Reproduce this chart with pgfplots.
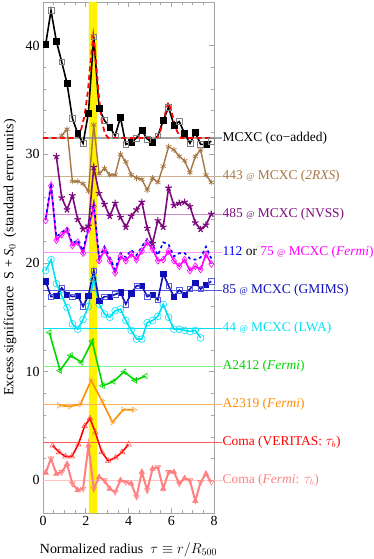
\documentclass[border=0pt]{standalone}
\usepackage{fontspec}
\setmainfont{Liberation Serif}
\usepackage{pgfplots}
\usepackage{pgfplotstable}
\pgfplotsset{compat=1.18}
\definecolor{cbrown}{RGB}{166,118,66}
\definecolor{cbrownl}{RGB}{205,175,145}
\definecolor{cpurple}{RGB}{125,10,125}
\definecolor{cpurplel}{RGB}{205,140,205}
\definecolor{cmag}{RGB}{255,0,255}
\definecolor{cmagl}{RGB}{255,150,255}
\definecolor{cblue}{RGB}{0,0,255}
\definecolor{cgm}{RGB}{15,15,185}
\definecolor{cgml}{RGB}{90,90,225}
\definecolor{ccyan}{RGB}{0,225,245}
\definecolor{cgreen}{RGB}{0,215,0}
\definecolor{cgreenl}{RGB}{130,240,130}
\definecolor{corange}{RGB}{255,140,0}
\definecolor{corangel}{RGB}{255,180,90}
\definecolor{cred}{RGB}{255,0,0}
\definecolor{credl}{RGB}{255,90,90}
\definecolor{cpink}{RGB}{255,128,128}
\definecolor{cpinkl}{RGB}{255,195,195}
\definecolor{cframe}{RGB}{165,165,165}

\pgfplotstableread{
x y
0.125 40.1
0.375 43.2
0.625 40.4
0.875 38.5
1.125 36.5
1.375 33.3
1.625 31.9
1.875 31.0
2.125 33.8
2.375 40.8
2.625 34.2
2.875 33.1
3.125 32.5
3.375 31.7
3.625 33.4
3.875 30.9
4.125 31.1
4.375 31.5
4.625 32.2
4.875 31.4
5.125 31.1
5.375 31.7
5.625 33.1
5.875 34.3
6.125 32.7
6.375 33.0
6.625 31.9
6.875 31.0
7.125 32.0
7.375 30.9
7.625 30.9
7.875 31.2
}\tblack

\pgfplotstableread{
x y
0.0 31.5
1.55 31.5
1.75 32.0
1.95 33.6
2.1 35.8
2.25 39.0
2.35 40.9
2.45 39.2
2.6 35.6
2.75 33.0
2.9 31.9
3.05 31.5
5.35 31.5
5.5 32.2
5.7 33.6
5.87 34.8
6.05 33.6
6.25 32.2
6.45 31.5
8.0 31.5
}\tmodel

\pgfplotstableread{
x y
0.875 31.7
1.125 32.3
1.375 27.5
1.625 27.5
1.875 27.3
2.125 26.6
2.375 32.7
2.625 28.2
2.875 28.7
3.125 28.1
3.375 28.1
3.625 30.0
3.875 29.3
4.125 28.1
4.375 27.8
4.625 27.7
4.875 26.7
5.125 27.8
5.375 27.4
5.625 28.9
5.875 30.7
6.125 30.4
6.375 29.8
6.625 29.4
6.875 28.3
7.125 29.8
7.375 30.4
7.625 28.1
7.875 27.4
}\tbrown

\pgfplotstableread{
x y
0.625 29.8
0.875 26.0
1.125 24.9
1.375 26.2
1.625 24.0
1.875 23.1
2.125 23.4
2.375 28.8
2.625 26.4
2.875 25.4
3.125 24.3
3.375 25.5
3.625 24.2
3.875 23.3
4.125 24.3
4.375 24.9
4.625 25.6
4.875 23.2
5.125 21.8
5.375 23.9
5.625 23.3
5.875 26.9
6.125 25.3
6.375 25.5
6.625 25.6
6.875 25.2
7.125 23.7
7.375 23.1
7.625 23.5
7.875 24.5
}\tpurple

\pgfplotstableread{
x y
0.125 23.9
0.375 27.1
0.625 22.1
0.875 22.6
1.125 23.0
1.375 21.6
1.625 21.9
1.875 20.9
2.125 23.1
2.375 25.2
2.625 20.2
2.875 21.2
3.125 20.2
3.375 19.1
3.625 20.6
3.875 20.2
4.125 20.8
4.375 20.3
4.625 21.1
4.875 21.9
5.125 21.3
5.375 20.2
5.625 20.3
5.875 21.1
6.125 20.2
6.375 19.7
6.625 20.3
6.875 19.3
7.125 19.7
7.375 19.4
7.625 20.8
7.875 19.9
}\tmag

\pgfplotstableread{
x y
0.125 24.1
0.375 27.3
0.625 22.4
0.875 22.8
1.125 23.2
1.375 21.8
1.625 22.1
1.875 21.1
2.125 23.4
2.375 25.5
2.625 20.5
2.875 21.5
3.125 20.5
3.375 19.4
3.625 20.9
3.875 20.5
4.125 21.2
4.375 20.7
4.625 21.5
4.875 22.2
5.125 21.7
5.375 20.7
5.625 21.9
5.875 21.7
6.125 20.6
6.375 20.9
6.625 20.9
6.875 20.4
7.125 20.3
7.375 20.5
7.625 21.5
7.875 20.4
}\tbluef

\pgfplotstableread{
x y
0.125 18.3
0.375 16.9
0.625 17.0
0.875 17.7
1.125 17.1
1.375 16.9
1.625 17.0
1.875 16.0
2.125 17.0
2.375 19.3
2.625 16.5
2.875 16.9
3.125 16.9
3.375 17.1
3.625 17.3
3.875 16.2
4.125 17.2
4.375 17.9
4.625 17.9
4.875 16.9
5.125 17.1
5.375 16.6
5.625 19.0
5.875 17.9
6.125 16.9
6.375 17.5
6.625 17.1
6.875 17.6
7.125 18.2
7.375 17.6
7.625 18.0
7.875 18.3
}\tgm

\pgfplotstableread{
x y
0.125 19.3
0.375 20.3
0.625 18.1
0.875 17.0
1.125 15.9
1.375 14.4
1.625 13.9
1.875 14.8
2.125 16.0
2.375 18.5
2.625 16.2
2.875 15.3
3.125 15.0
3.375 15.6
3.625 15.75
3.875 14.7
4.125 13.8
4.375 13.0
4.625 13.0
4.875 14.5
5.125 14.7
5.375 15.1
5.625 16.2
5.875 15.0
6.125 13.9
6.375 13.9
6.625 13.8
6.875 13.7
7.125 13.8
7.375 13.1
}\tcyan

\pgfplotstableread{
x y
0.3 13.6
0.8 10.1
1.3 11.5
1.8 10.85
2.3 12.8
2.8 8.7
3.3 9.1
3.8 10.0
4.3 9.2
4.8 9.6
}\tgreen

\pgfplotstableread{
x y
0.75 6.9
1.25 6.8
1.75 7.0
2.25 9.2
2.75 7.35
3.25 5.35
3.75 6.5
4.25 6.5
}\torange

\pgfplotstableread{
x y
0.45 3.2
0.75 2.6
1.05 2.2
1.35 2.2
1.65 3.3
1.95 5.0
2.2 5.7
2.45 4.4
2.75 2.6
3.05 1.8
3.4 2.1
3.7 2.6
4.0 3.3
}\tred

\pgfplotstableread{
x y
0.125 0.7
0.375 2.0
0.625 0.6
0.875 0.76
1.125 1.5
1.375 -0.3
1.625 -0.9
1.875 -0.77
2.125 3.2
2.375 -0.77
2.625 0.3
2.875 0.0
3.125 -0.77
3.375 -1.07
3.625 0.0
3.875 -0.15
4.125 -0.3
4.375 -1.5
4.625 0.76
4.875 -0.9
5.125 1.07
5.375 1.2
5.625 -0.77
5.875 0.76
6.125 0.76
6.375 -0.3
6.625 0.2
6.875 0.0
7.125 -1.9
7.375 -0.15
7.625 0.6
7.875 -0.15
}\tpink

\begin{document}
\begin{tikzpicture}
\useasboundingbox (-43bp,-46bp) rectangle (331bp,513bp);
\begin{axis}[
  at={(0,0)}, anchor=south west,
  scale only axis, width=171bp, height=511bp,
  xmin=0, xmax=8, ymin=-3, ymax=44,
  clip=false,
  xtick={0,2,4,6,8}, ytick={0,10,20,30,40},
  minor x tick num=3, minor y tick num=4,
  tick align=inside,
  axis line style={cframe, line width=0.8bp},
  major tick style={cframe, line width=0.6bp},
  minor tick style={cframe, line width=0.6bp},
  major tick length=5bp, minor tick length=3bp,
  /pgf/number format/assume math mode=true,
  tick label style={font=\fontsize{14}{16}\selectfont, black},
  every axis x label/.style={at={(axis description cs:0.5,0)}, anchor=center, yshift=-37bp},
  every axis y label/.style={at={(axis description cs:0,0.5)}, xshift=-33bp, rotate=90, anchor=center},
  label style={font=\fontsize{14}{16}\selectfont},
  xlabel={Normalized radius\enspace$\tau\equiv r/R_{500}$},
  ylabel={Excess significance\enspace S + \textit{S}$_0$\enspace(standard error units)},
]
% yellow band
\addplot[fill=yellow, draw=none] coordinates {(2.15,-3) (2.52,-3) (2.52,44) (2.15,44)} \closedcycle;

% baselines
\addplot[cframe, line width=1.2bp] coordinates {(0,31.5) (8.36,31.5)};
\addplot[cbrownl, line width=0.9bp] coordinates {(0,28) (8.36,28)};
\addplot[cpurplel, line width=0.9bp] coordinates {(0,24.5) (8.36,24.5)};
\addplot[cmagl, line width=0.9bp] coordinates {(0,21) (8.36,21)};
\addplot[cgml, line width=0.9bp] coordinates {(0,17.5) (8.36,17.5)};
\addplot[ccyan, line width=0.8bp] coordinates {(0,14) (8.36,14)};
\addplot[cgreenl, line width=0.9bp] coordinates {(0,10.5) (8.36,10.5)};
\addplot[corangel, line width=0.9bp] coordinates {(0,7) (8.36,7)};
\addplot[credl, line width=0.9bp] coordinates {(0,3.5) (8.36,3.5)};
\addplot[cpinkl, line width=0.9bp] coordinates {(0,0) (8.36,0)};

% pink (Coma Fermi)
\addplot[cpink, line width=2bp, mark=triangle*, mark repeat=2, mark phase=1, mark size=3.2bp, mark options={solid, line width=0.5bp}] table {\tpink};
\addplot[only marks, mark=triangle, mark repeat=2, mark phase=2, mark size=3.2bp, mark options={cpink, fill=white, rotate=180, line width=0.6bp}] table {\tpink};
% red (Coma VERITAS)
\addplot[cred, line width=1.6bp, mark=triangle, mark size=3.2bp, mark options={credl, fill=white, line width=0.6bp}] table {\tred};
% orange
\addplot[corange, line width=1.6bp, mark=triangle, mark size=3.2bp, mark options={corangel, fill=white, rotate=-90, line width=0.6bp}] table {\torange};
% green
\addplot[cgreen, line width=1.6bp, mark=triangle, mark size=3.2bp, mark options={cgreen, fill=white, rotate=90, line width=0.6bp}] table {\tgreen};
% cyan
\addplot[ccyan, line width=1.6bp, mark=o, mark size=3.4bp, mark options={ccyan, line width=0.6bp}] table {\tcyan};
% GMIMS
\addplot[cgm, line width=1.6bp, mark=square*, mark repeat=2, mark phase=1, mark size=2.7bp, mark options={line width=0.5bp}] table {\tgm};
\addplot[only marks, mark=square, mark repeat=2, mark phase=2, mark size=2.7bp, mark options={cgml, fill=white, line width=0.6bp}] table {\tgm};
% magenta and blue dashed
\addplot[cmag, line width=1.6bp, mark=diamond, mark size=3.4bp, mark options={solid, cmag, fill=white, line width=0.6bp}] table {\tmag};
\addplot[cblue, line width=1.6bp, dash pattern=on 3bp off 3bp] table {\tbluef};
% purple
\addplot[cpurple, line width=1.6bp, mark=star, mark size=3.4bp, mark options={line width=1.2bp}] table {\tpurple};
% brown
\addplot[cbrown, line width=1.4bp, mark=asterisk, mark size=3bp, mark options={line width=0.7bp}] table {\tbrown};
% black
\addplot[black, line width=1.6bp, mark=square*, mark repeat=2, mark phase=1, mark size=2.9bp, mark options={line width=0.5bp}] table {\tblack};
\addplot[only marks, mark=square, mark repeat=2, mark phase=2, mark size=2.9bp, mark options={gray, fill=white, line width=0.6bp}] table {\tblack};
\addplot[red, line width=1.8bp, dash pattern=on 5bp off 3.5bp] table {\tmodel};

% labels
\begin{scope}[every node/.style={anchor=west, inner sep=0pt, font=\fontsize{13.5}{16}\selectfont}]
\node[text=black] at (axis cs:8.4,31.5) {MCXC (co\textminus added)};
\node[text=cbrown] at (axis cs:8.4,28) {443 {\small @} MCXC (\textit{2RXS})};
\node[text=cpurple] at (axis cs:8.4,24.5) {485 {\small @} MCXC (NVSS)};
\node at (axis cs:8.4,21) {\textcolor{cblue}{112} or \textcolor{cmag}{75 {\small @} MCXC (\textit{Fermi})}};
\node[text=cgm] at (axis cs:8.4,17.5) {85 {\small @} MCXC (GMIMS)};
\node[text=ccyan] at (axis cs:8.4,14) {44 {\small @} MCXC (LWA)};
\node[text=cgreen] at (axis cs:8.4,10.5) {A2412 (\textit{Fermi})};
\node[text=corange] at (axis cs:8.4,7) {A2319 (\textit{Fermi})};
\node[text=cred] at (axis cs:8.4,3.5) {Coma (VERITAS: $\tau_b$)};
\node[text=cpink] at (axis cs:8.4,0) {Coma (\textit{Fermi}: $\tau_b$)};
\end{scope}
\end{axis}
\end{tikzpicture}
\end{document}
